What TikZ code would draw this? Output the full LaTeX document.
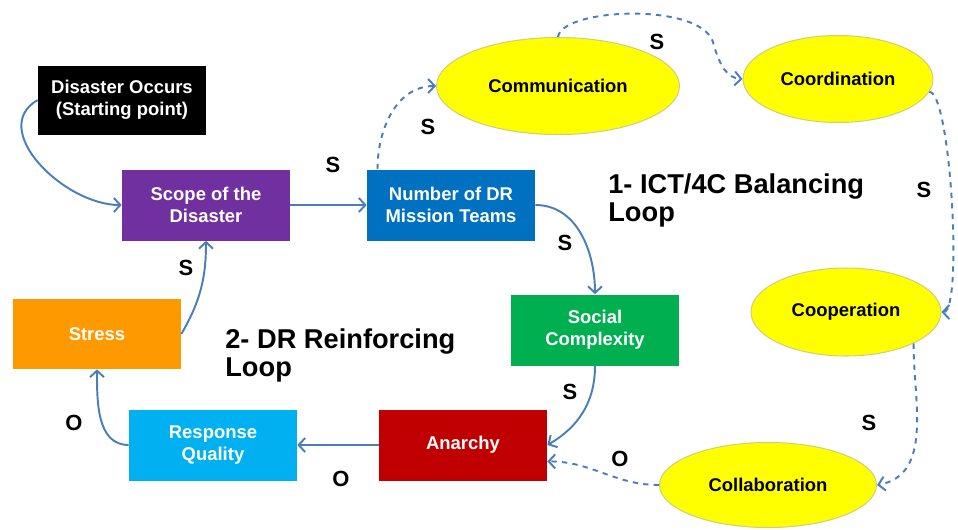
\documentclass[tikz,border=0pt]{standalone}
\usepackage{fontspec}
\setmainfont{Liberation Sans}
\usetikzlibrary{shapes.geometric,arrows.meta}

\definecolor{startblack}{HTML}{000000}
\definecolor{scopepurple}{HTML}{7030A0}
\definecolor{teamblue}{HTML}{0070C0}
\definecolor{socialgreen}{HTML}{00B050}
\definecolor{anarchyred}{HTML}{C00000}
\definecolor{qualityblue}{HTML}{00B0F0}
\definecolor{stressorange}{HTML}{FF9900}
\definecolor{ovalyellow}{HTML}{FFFF00}
\definecolor{ovalrim}{HTML}{CFCF7A}
\definecolor{linkblue}{HTML}{4A7EBB}

\begin{document}
\begin{tikzpicture}[
    x=0.02cm, y=0.02cm,
    box/.style={rectangle, text=white, font=\bfseries\fontsize{10.5}{12.5}\selectfont, minimum width=3.36cm, minimum height=1.42cm, align=center, inner sep=2pt},
    oval/.style={ellipse, fill=ovalyellow, draw=ovalrim, line width=0.6pt, font=\bfseries\fontsize{10.5}{12.5}\selectfont, inner sep=0pt},
    arrow/.style={-{Straight Barb[length=1.3mm,width=2.8mm]}, linkblue, line width=1.1pt},
    dasharrow/.style={arrow, dashed},
    sign/.style={font=\bfseries\fontsize{12.5}{14}\selectfont, inner sep=0pt},
    looptitle/.style={anchor=north west, align=left, inner sep=0pt, font=\bfseries\fontsize{15.5}{16}\selectfont}
]
    \useasboundingbox (0,0) rectangle (958,-529);

    % DR reinforcing loop
    \node[box, fill=startblack, minimum height=1.38cm] (start) at (122,-100) {Disaster Occurs\\(Starting point)};
    \node[box, fill=scopepurple] (scope) at (206,-205) {Scope of the\\Disaster};
    \node[box, fill=teamblue] (teams) at (451,-205) {Number of DR\\Mission Teams};
    \node[box, fill=socialgreen] (social) at (595,-330) {Social\\Complexity};
    \node[box, fill=anarchyred] (anarchy) at (463,-445) {Anarchy};
    \node[box, fill=qualityblue] (quality) at (213,-445) {Response\\Quality};
    \node[box, fill=stressorange, minimum height=1.4cm] (stress) at (97,-334) {Stress};

    % ICT/4C balancing loop
    \node[oval, minimum width=4.86cm, minimum height=1.94cm] (comm) at (558,-86) {Communication};
    \node[oval, minimum width=3.8cm, minimum height=1.74cm] (coord) at (838,-79) {Coordination};
    \node[oval, minimum width=3.8cm, minimum height=1.76cm] (coop) at (846,-312) {Cooperation};
    \node[oval, minimum width=4.34cm, minimum height=1.7cm] (collab) at (768,-485) {Collaboration};
    \coordinate (commbend) at (713,-42);

    % Loop titles
    \node[looptitle] (title1) at (608,-173) {1- ICT/4C Balancing\\Loop};
    \node[looptitle] (title2) at (225,-328) {2- DR Reinforcing\\Loop};

    % Solid arrows
    \draw[arrow] (start.west) to[out=210, in=180, looseness=1.1] (scope.west);
    \draw[arrow] (scope) -- (teams);
    \draw[arrow] (teams.east) to[out=0, in=90] (social.north);
    \draw[arrow] (social.south) to[out=270, in=30] (anarchy.east);
    \draw[arrow] (anarchy) -- (quality);
    \draw[arrow] (quality.west) to[out=180, in=270] (stress.south);
    \draw[arrow] (stress.east) to[out=60, in=270] (scope.south);

    % Dashed arrows
    \draw[dasharrow] (teams.154) to[out=90, in=180] (comm.west);
    \draw[dasharrow] (comm.north) .. controls (562,-8) and (700,-2) .. (commbend)
        .. controls (720,-68) and (728,-78) .. (coord.west);
    \draw[dasharrow] (coord.-8) to[out=0, in=0, looseness=0.25] (coop.east);
    \draw[dasharrow] (coop.-25) to[out=270, in=10] (collab.east);
    \draw[dasharrow] (collab.west) to[out=180, in=0] (anarchy.-11);

    % Signs
    \node[sign] (signA) at (333,-165) {S};
    \node[sign] (signB) at (428,-127) {S};
    \node[sign] (signC) at (657,-42) {S};
    \node[sign] (signD) at (924,-190) {S};
    \node[sign] (signE) at (565,-243) {S};
    \node[sign] (signF) at (570,-392) {S};
    \node[sign] (signG) at (186,-268) {S};
    \node[sign] (signH) at (869,-423) {S};
    \node[sign] (signI) at (74,-423) {O};
    \node[sign] (signJ) at (341,-479) {O};
    \node[sign] (signK) at (620,-459) {O};
\end{tikzpicture}
\end{document}
